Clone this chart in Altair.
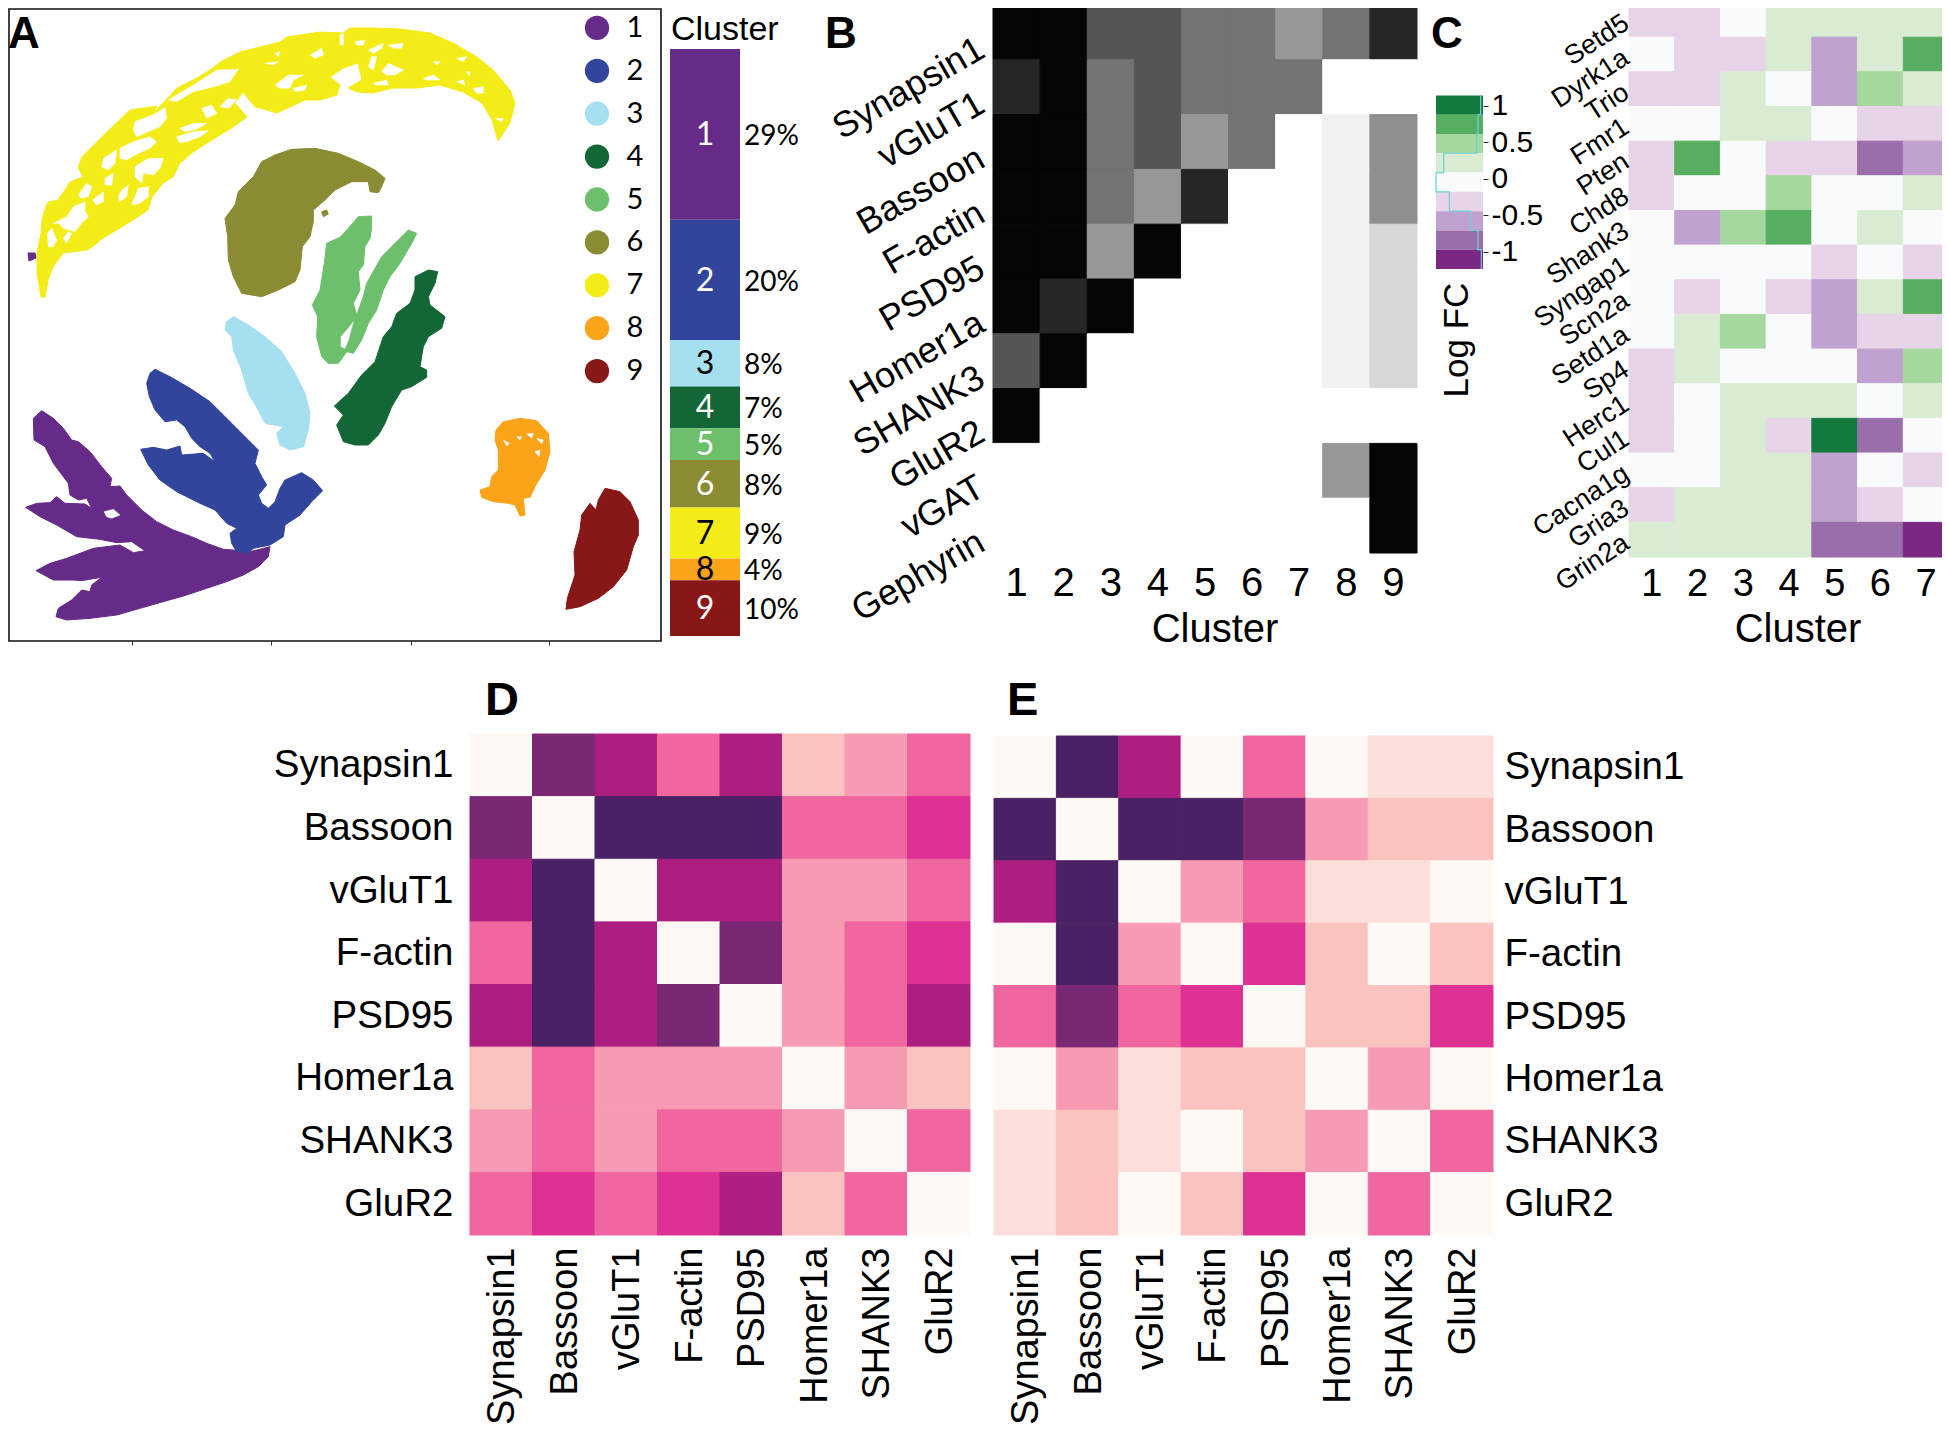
import altair as alt
import pandas as pd

W, H = 1934, 1417
M = 8
SANS = "Liberation Sans"
SOFT = "Lato"

# ---------- panel A: cluster outlines of the embedding ----------
cluster_colors = ["#662b88", "#32459c", "#a6dff0", "#136635", "#6dc06b", "#8a8b33", "#f4ec17", "#fba319", "#881717"]
cluster_names = ["1", "2", "3", "4", "5", "6", "7", "8", "9"]
cluster_share = [29.1, 20.5, 7.9, 7.1, 5.4, 8.1, 8.7, 3.7, 9.5]
cluster_pct = ["29%", "20%", "8%", "7%", "5%", "8%", "9%", "4%", "10%"]
bar_ink = ["white", "white", "black", "white", "white", "white", "black", "black", "white"]

yellow_outline = [(41,297),(37,273),(37,253),(41,233),(42,220),(44,212),(48,202),(58,200),(65,190),(70,182),(83,177),(78,167),(82,157),(92,147),(107,132),(130,110),(157,106),(153,113),(163,103),(177,88),(197,78),(213,68),(220,62),(240,52),(280,42),(287,37),(320,32),(343,33),(350,28),(373,28),(400,29),(430,33),(453,43),(477,57),(493,70),(510,90),(515,103),(510,123),(498,141),(492,120),(482,103),(463,92),(440,85),(417,88),(393,88),(373,93),(357,92),(348,88),(362,80),(358,63),(343,68),(330,77),(340,85),(337,95),(320,100),(305,100),(277,113),(260,108),(255,107),(243,92),(235,103),(247,117),(233,127),(220,135),(207,143),(193,152),(180,163),(173,177),(163,183),(152,197),(148,210),(133,220),(120,228),(103,238),(92,247),(87,250),(63,253),(53,267),(48,280),(45,297)]
holes_left = [
    [(445,240),(520,195),(590,150),(655,148),(630,185),(590,198),(520,215),(470,245)],
    [(345,305),(405,282),(435,262),(440,295),(420,320),(385,335),(350,350),(340,330)],
    [(470,350),(520,335),(565,332),(540,350),(500,365),(478,368)],
    [(480,325),(520,310),(560,310),(530,328),(495,335)],
    [(600,260),(625,235),(650,240),(625,265)],
    [(545,265),(575,255),(590,280),(560,295)],
    [(300,385),(340,365),(390,350),(410,365),(390,385),(345,405),(320,420),(300,415)],
    [(250,415),(290,390),(285,430),(265,450),(245,440)],
    [(345,440),(385,415),(430,415),(420,445),(400,465),(370,460),(365,490),(345,470)],
    [(255,475),(280,460),(275,495),(255,495)],
    [(175,525),(200,490),(215,500),(205,530),(185,535)],
    [(218,540),(250,515),(250,545),(228,555)],
    [(305,510),(325,495),(320,530),(300,545),(295,530)],
    [(335,555),(355,505),(385,500),(385,530),(360,550)],
    [(100,610),(140,590),(160,560),(195,545),(195,575),(205,590),(185,610),(165,635),(130,625),(115,610)],
    [(82,640),(95,625),(110,660),(100,680),(85,680)],
    [(130,655),(145,635),(155,640),(140,670)],
]
holes_right = [
    [(45,195),(85,165),(130,165),(100,180),(90,205),(60,205)],
    [(100,205),(140,195),(135,210),(105,215)],
    [(150,105),(185,85),(190,105),(165,115)],
    [(325,90),(370,70),(365,85),(340,100)],
    [(385,75),(430,70),(425,85),(400,85)],
    [(365,155),(385,130),(430,150),(405,165),(380,165)],
    [(285,65),(315,60),(310,75),(290,75)],
    [(590,115),(620,110),(610,125)],
    [(640,205),(670,200),(670,220),(650,220)],
    [(340,190),(380,180),(385,195),(345,195)],
    [(490,175),(520,165),(540,180),(500,180)],
    [(590,185),(610,180),(615,195)],
    [(705,295),(730,295),(725,305)],
    [(45,100),(60,95),(55,110)],
    [(520,125),(540,125),(530,135)],
    [(240,45),(250,40),(250,75),(240,75)],
    [(15,130),(55,125),(40,135)],
    [(325,140),(335,110),(350,110),(340,150)],
    [(620,155),(630,155),(628,168)],
]
stray_point = [(28,253),(35,253),(36,258),(29,261)]

# outlines below: 3x enlargement units, lower-left crop
outline_1 = [(95,152),(130,175),(160,205),(185,240),(205,245),(240,275),(275,320),(305,355),(300,380),(330,378),(350,405),(395,450),(440,485),(490,510),(545,530),(590,550),(640,568),(670,570),(720,575),(780,560),(775,590),(745,620),(700,645),(650,665),(590,685),(530,705),(460,725),(390,745),(320,765),(240,775),(170,780),(138,770),(145,745),(185,720),(215,690),(240,695),(245,675),(275,652),(215,662),(190,660),(130,660),(78,632),(120,610),(170,595),(250,565),(330,555),(370,578),(405,572),(365,545),(320,548),(270,538),(200,530),(140,495),(90,470),(47,442),(80,430),(120,428),(140,410),(165,430),(225,432),(245,445),(230,415),(205,420),(180,405),(175,370),(130,310),(105,260),(72,240),(70,175)]
hole_1 = [(282,455),(310,448),(330,465),(305,475),(290,470)]
outline_2 = [(435,28),(480,50),(540,85),(600,125),(650,175),(700,225),(745,270),(735,310),(755,350),(770,375),(745,405),(755,430),(775,445),(795,425),(810,385),(825,360),(875,338),(910,360),(938,392),(905,425),(870,465),(825,495),(820,530),(780,555),(730,565),(715,580),(680,575),(665,550),(660,520),(680,505),(650,490),(615,450),(570,430),(500,395),(450,360),(415,315),(392,268),(430,262),(470,270),(510,258),(515,285),(580,280),(615,305),(600,280),(570,260),(545,235),(525,200),(500,180),(465,185),(435,150),(418,110),(410,70),(420,40)]
# middle crop
outline_3 = [(55,530),(100,555),(150,590),(200,635),(240,700),(270,760),(285,820),(280,870),(265,920),(225,930),(195,915),(185,880),(205,860),(150,850),(130,810),(100,760),(80,690),(55,630),(50,590),(30,570),(35,545)]
outline_6 = [(230,28),(300,25),(370,40),(430,65),(480,90),(510,115),(500,140),(490,158),(465,155),(460,125),(410,125),(360,150),(330,180),(295,210),(295,245),(285,290),(262,320),(255,390),(240,425),(190,450),(140,470),(80,460),(55,410),(40,360),(38,290),(30,235),(60,195),(70,155),(115,110),(140,65),(180,45)]
stray_6 = [(320,215),(335,210),(340,222),(325,230)]
outline_5 = [(430,230),(470,228),(470,265),(465,295),(450,320),(445,375),(430,395),(435,450),(415,490),(425,525),(445,470),(455,430),(500,350),(540,310),(580,270),(605,280),(590,310),(555,370),(525,410),(505,450),(485,510),(460,550),(440,600),(415,640),(395,635),(385,650),(370,670),(340,670),(320,650),(305,590),(308,530),(292,495),(315,450),(328,370),(335,310),(375,292),(400,265)]
hole_5 = [(378,590),(400,565),(415,545),(400,600),(390,625),(378,620)]
outline_4 = [(600,410),(640,390),(668,395),(660,430),(640,470),(645,495),(690,530),(680,565),(640,590),(625,620),(615,680),(635,690),(635,712),(590,740),(560,750),(530,800),(510,850),(490,885),(460,915),(420,915),(385,905),(365,855),(385,825),(358,798),(400,760),(440,705),(480,665),(505,590),(530,560),(545,520),(585,490),(600,450)]
# lower-right crop
outline_8 = [(100,35),(150,25),(200,32),(235,70),(240,125),(225,180),(195,230),(180,262),(160,265),(165,315),(150,318),(135,285),(115,280),(70,275),(35,262),(30,240),(60,230),(65,200),(85,180),(85,120),(75,90),(78,60)]
holes_8 = [[(100,90),(118,100),(110,108)], [(200,85),(220,90),(215,102)], [(195,125),(210,120),(208,140)], [(140,80),(155,80),(150,90)], [(170,72),(190,70),(185,85)]]
outline_9 = [(405,235),(450,245),(480,275),(505,330),(505,375),(490,410),(470,480),(430,530),(385,565),(330,590),(288,598),(292,565),(315,495),(312,425),(330,360),(335,315),(360,280),(378,300),(385,270)]

# ---------- panel B ----------
b_rows = ["Synapsin1", "vGluT1", "Bassoon", "F-actin", "PSD95", "Homer1a", "SHANK3", "GluR2", "vGAT", "Gephyrin"]
b_levels = [0, 1, 2, 3, 4, 5, 6, 7, 8]
b_colors = ["#ffffff", "#f2f2f2", "#d8d8d8", "#979796", "#8f8f8e", "#727372", "#545554", "#262626", "#030506"]
b_matrix = [
    [8, 8, 6, 6, 5, 5, 3, 5, 7],
    [7, 8, 5, 6, 5, 5, 5, 0, 0],
    [8, 8, 5, 6, 3, 5, 0, 1, 4],
    [8, 8, 5, 3, 7, 0, 0, 1, 4],
    [8, 8, 3, 8, 0, 0, 0, 1, 2],
    [8, 7, 8, 0, 0, 0, 0, 1, 2],
    [6, 8, 0, 0, 0, 0, 0, 1, 2],
    [8, 0, 0, 0, 0, 0, 0, 0, 0],
    [0, 0, 0, 0, 0, 0, 0, 3, 8],
    [0, 0, 0, 0, 0, 0, 0, 0, 8],
]

# ---------- panel C ----------
c_rows = ["Setd5", "Dyrk1a", "Trio", "Fmr1", "Pten", "Chd8", "Shank3", "Syngap1", "Scn2a", "Setd1a", "Sp4", "Herc1", "Cul1", "Cacna1g", "Gria3", "Grin2a"]
c_cols = ["1", "2", "3", "4", "5", "6", "7"]
c_levels = [1.0, 0.75, 0.5, 0.25, 0.0, -0.25, -0.5, -0.75, -1.0]
c_colors = ["#137a3e", "#58ae60", "#a6d79e", "#d9ebd3", "#f9fafc", "#e8d4e8", "#bfa2cf", "#9a6dab", "#7a2882"]
c_hist = [7, 15, 19, 117, 140, 100, 37, 15, 5]
c_matrix = [
    [-.25, -.25, 0, .25, .25, .25, .25],
    [0, -.25, -.25, .25, -.5, .25, .75],
    [-.25, -.25, .25, 0, -.5, .5, .25],
    [0, 0, .25, .25, 0, -.25, -.25],
    [-.25, .75, 0, -.25, -.25, -.75, -.5],
    [-.25, 0, 0, .5, 0, 0, .25],
    [0, -.5, .5, .75, 0, .25, 0],
    [0, 0, 0, 0, -.25, 0, -.25],
    [0, -.25, 0, -.25, -.5, .25, .75],
    [0, .25, .5, 0, -.5, -.25, -.25],
    [-.25, .25, 0, 0, 0, -.5, .5],
    [-.25, 0, .25, .25, .25, 0, .25],
    [-.25, 0, .25, -.25, 1, -.75, 0],
    [0, 0, .25, .25, -.5, 0, -.25],
    [-.25, .25, .25, .25, -.5, -.25, 0],
    [.25, .25, .25, .25, -.75, -.75, -1],
]

# ---------- panels D, E ----------
markers = ["Synapsin1", "Bassoon", "vGluT1", "F-actin", "PSD95", "Homer1a", "SHANK3", "GluR2"]
rdpu_levels = [0, 1, 2, 3, 4, 5, 6, 7, 8]
rdpu_colors = ["#fff9f5", "#fcdedb", "#fac3bf", "#f79bb4", "#f067a0", "#dd3194", "#ac1f80", "#7a2874", "#4b2165"]
d_matrix = [
    [0, 7, 6, 4, 6, 2, 3, 4],
    [7, 0, 8, 8, 8, 4, 4, 5],
    [6, 8, 0, 6, 6, 3, 3, 4],
    [4, 8, 6, 0, 7, 3, 4, 5],
    [6, 8, 6, 7, 0, 3, 4, 6],
    [2, 4, 3, 3, 3, 0, 3, 2],
    [3, 4, 3, 4, 4, 3, 0, 4],
    [4, 5, 4, 5, 6, 2, 4, 0],
]
e_matrix = [
    [0, 8, 6, 0, 4, 0, 1, 1],
    [8, 0, 8, 8, 7, 3, 2, 2],
    [6, 8, 0, 3, 4, 1, 1, 0],
    [0, 8, 3, 0, 5, 2, 0, 2],
    [4, 7, 4, 5, 0, 2, 2, 5],
    [0, 3, 1, 2, 2, 0, 3, 0],
    [1, 2, 1, 0, 2, 3, 0, 4],
    [1, 2, 0, 2, 5, 0, 4, 0],
]


def band(domain, a, b):
    return alt.Scale(type="band", domain=list(domain), range=[a - M, b - M], paddingInner=0, paddingOuter=0)


def embed_x():
    return alt.Scale(domain=[0, 1950], range=[-M, 1950 - M], nice=False, zero=False)


def embed_y():
    return alt.Scale(domain=[0, 1433], range=[-M, 1433 - M], nice=False, zero=False)


def note(text, x, y, size, font=SANS, weight="normal", align="left", baseline="alphabetic", angle=0, color="black"):
    mark = alt.Chart(pd.DataFrame({"t": [text]})).mark_text(
        font=font, fontSize=size, fontWeight=weight, align=align, baseline=baseline, angle=angle, color=color
    )
    return mark.encode(x=alt.value(x - M), y=alt.value(y - M), text="t:N")


def polygon(points, color, sx=1.0, sy=1.0, ox=0.0, oy=0.0, width=1.0):
    df = pd.DataFrame({
        "x": [ox + p[0] / sx for p in points],
        "y": [oy + p[1] / sy for p in points],
        "i": list(range(len(points))),
    })
    return alt.Chart(df).mark_line(fill=color, stroke=color, strokeWidth=width, interpolate="linear-closed").encode(
        x=alt.X("x:Q", scale=embed_x(), axis=None),
        y=alt.Y("y:Q", scale=embed_y(), axis=None),
        order="i:Q",
    )


def heatmap(matrix, rows, cols, levels, colors, box, xaxis, yaxis):
    x0, x1, y0, y1 = box
    df = pd.DataFrame([
        {"row": r, "col": c, "v": matrix[i][j]}
        for i, r in enumerate(rows) for j, c in enumerate(cols)
    ])
    cscale = alt.Scale(domain=levels, range=colors)
    return alt.Chart(df).mark_rect(strokeWidth=1).encode(
        x=alt.X("col:N", scale=band(cols, x0, x1), axis=xaxis, sort=None),
        y=alt.Y("row:N", scale=band(rows, y0, y1), axis=yaxis, sort=None),
        fill=alt.Fill("v:O", scale=cscale, legend=None),
        stroke=alt.Stroke("v:O", scale=cscale, legend=None),
    )


def bottom_axis(y, **kw):
    base = dict(orient="bottom", offset=y - M - H, domain=False, ticks=False, tickSize=0, grid=False,
                labelFont=SANS, labelColor="black", labelOverlap=False, labelLimit=500, labelAngle=0, title=None)
    base.update(kw)
    return alt.Axis(**base)


def left_axis(x, **kw):
    base = dict(orient="left", offset=M - x, domain=False, ticks=False, tickSize=0, grid=False,
                labelFont=SANS, labelColor="black", labelOverlap=False, labelLimit=500, title=None)
    base.update(kw)
    return alt.Axis(**base)


def right_axis(x, **kw):
    base = dict(orient="right", offset=x - M - W, domain=False, ticks=False, tickSize=0, grid=False,
                labelFont=SANS, labelColor="black", labelOverlap=False, labelLimit=500, title=None)
    base.update(kw)
    return alt.Axis(**base)


layers = []

# ---- A: frame
frame = pd.DataFrame({"x0": [9], "x1": [661], "y0": [9], "y1": [641]})
layers.append(alt.Chart(frame).mark_rect(filled=False, stroke="#111111", strokeWidth=1.6).encode(
    x=alt.X("x0:Q", scale=embed_x(), axis=bottom_axis(641, labels=False, ticks=True, tickSize=4, tickColor="#333333",
                                                       values=[132, 271, 411, 549])),
    x2="x1:Q",
    y=alt.Y("y0:Q", scale=embed_y(), axis=None),
    y2="y1:Q",
))

# ---- A: clusters
layers.append(polygon(yellow_outline, cluster_colors[6]))
for h in holes_left:
    layers.append(polygon(h, "#ffffff", 3, 3, 20, 20, 0.5))
for h in holes_right:
    layers.append(polygon(h, "#ffffff", 3, 3, 260, 20, 0.5))
layers.append(polygon(stray_point, cluster_colors[0]))
for pts, idx in [(outline_6, 5), (stray_6, 5), (outline_5, 4), (outline_4, 3), (outline_3, 2)]:
    layers.append(polygon(pts, cluster_colors[idx], 3, 3, 215, 140))
layers.append(polygon(hole_5, "#ffffff", 3, 3, 215, 140, 0.5))
for pts, idx in [(outline_1, 0), (outline_2, 1)]:
    layers.append(polygon(pts, cluster_colors[idx], 3, 3, 10, 360))
layers.append(polygon(hole_1, "#ffffff", 3, 3, 10, 360, 0.5))
for pts, idx in [(outline_8, 7), (outline_9, 8)]:
    layers.append(polygon(pts, cluster_colors[idx], 3, 3, 470, 410))
for h in holes_8:
    layers.append(polygon(h, "#ffffff", 3, 3, 470, 410, 0.5))

# ---- A: legend
cluster_scale = alt.Scale(domain=cluster_names, range=cluster_colors)
legend_df = pd.DataFrame({"c": cluster_names})
layers.append(alt.Chart(legend_df).mark_point(filled=True, opacity=1, shape="circle", size=590).encode(
    x=alt.value(597 - M),
    y=alt.Y("c:N", scale=band(cluster_names, 6.5, 392.5), axis=None, sort=None),
    color=alt.Color("c:N", scale=cluster_scale, legend=None),
))
layers.append(alt.Chart(legend_df).mark_text(font=SOFT, fontSize=29, align="center", color="black").encode(
    x=alt.value(635 - M),
    y=alt.Y("c:N", scale=band(cluster_names, 6.5, 392.5), axis=None, sort=None),
    text="c:N",
))

# ---- A: composition bar
ends = []
run = 0.0
for s in cluster_share:
    ends.append(run + s)
    run += s
bar_df = pd.DataFrame({
    "c": cluster_names,
    "start": [e - s for e, s in zip(ends, cluster_share)],
    "end": ends,
    "mid": [e - s / 2 for e, s in zip(ends, cluster_share)],
    "pct": cluster_pct,
    "ink": bar_ink,
    "k": ["Cluster"] * 9,
})
bar_y = alt.Scale(domain=[0, 100], range=[49 - M, 636 - M], nice=False, zero=False)
layers.append(alt.Chart(bar_df).mark_rect().encode(
    x=alt.X("k:N", scale=band(["Cluster"], 670, 740), axis=None),
    y=alt.Y("start:Q", scale=bar_y, axis=None),
    y2="end:Q",
    fill=alt.Fill("c:N", scale=cluster_scale, legend=None),
))
layers.append(alt.Chart(bar_df).mark_text(font=SOFT, fontSize=32, align="center", dy=1).encode(
    x=alt.X("k:N", scale=band(["Cluster"], 670, 740), axis=None),
    y=alt.Y("mid:Q", scale=bar_y, axis=None),
    text="c:N",
    color=alt.Color("ink:N", scale=None),
))
layers.append(alt.Chart(bar_df).mark_text(font=SOFT, fontSize=28, align="left", color="black", dy=3).encode(
    x=alt.value(744 - M),
    y=alt.Y("mid:Q", scale=bar_y, axis=None),
    text="pct:N",
))
layers.append(note("Cluster", 671, 40, 34))

# ---- B
layers.append(heatmap(
    b_matrix, b_rows, cluster_names, b_levels, b_colors, (993, 1417, 5, 553),
    bottom_axis(553, labelFontSize=40, labelPadding=10),
    left_axis(993, labelFontSize=36, labelPadding=12, labelAngle=330, labelAlign="right", labelBaseline="middle",
              labelOffset=14),
))
layers.append(note("Cluster", 1215, 642, 40, align="center"))

# ---- C colour bar
bar_top, bar_bottom = 1.145, -1.233
step = (bar_top - bar_bottom) / len(c_levels)
cb_df = pd.DataFrame({
    "lv": c_levels,
    "top": [bar_top - i * step for i in range(len(c_levels))],
    "bot": [bar_top - (i + 1) * step for i in range(len(c_levels))],
    "k": ["FC"] * len(c_levels),
})
cb_y = alt.Scale(domain=[bar_bottom, bar_top], range=[269 - M, 95.4 - M], nice=False, zero=False)
cscale = alt.Scale(domain=c_levels, range=c_colors)
layers.append(alt.Chart(cb_df).mark_rect().encode(
    x=alt.X("k:N", scale=band(["FC"], 1436, 1483), axis=None),
    y=alt.Y("top:Q", scale=cb_y, axis=right_axis(
        1483, ticks=True, tickSize=5, tickColor="#222222", labelFontSize=30, labelPadding=3,
        values=[1, 0.5, 0, -0.5, -1], labelExpr="'' + datum.value")),
    y2="bot:Q",
    fill=alt.Fill("lv:O", scale=cscale, legend=None),
))
hist_points = []
for i, c in enumerate(c_hist):
    hist_points.append({"n": c, "e": bar_top - i * step, "i": 2 * i})
    hist_points.append({"n": c, "e": bar_top - (i + 1) * step, "i": 2 * i + 1})
layers.append(alt.Chart(pd.DataFrame(hist_points)).mark_line(color="#66d2dc", strokeWidth=1.2).encode(
    x=alt.X("n:Q", scale=alt.Scale(domain=[0, 140], range=[1483 - M, 1436 - M], nice=False, zero=False), axis=None),
    y=alt.Y("e:Q", scale=cb_y, axis=None),
    order="i:Q",
))
layers.append(note("Log FC", 1468, 340, 35, align="center", angle=270))

# ---- C
layers.append(heatmap(
    c_matrix, c_rows, c_cols, c_levels, c_colors, (1629, 1949, 2.5, 557),
    bottom_axis(557, labelFontSize=38, labelPadding=8),
    left_axis(1629, labelFontSize=27, labelPadding=3, labelAngle=327, labelAlign="right", labelBaseline="middle",
              labelOffset=1),
))
layers.append(note("Cluster", 1798, 642, 40, align="center"))

# ---- D, E
layers.append(heatmap(
    d_matrix, markers, markers, rdpu_levels, rdpu_colors, (470, 970, 734, 1235),
    bottom_axis(1235, labelFontSize=38, labelPadding=12, labelAngle=270, labelAlign="right", labelBaseline="middle",
                labelOffset=2),
    left_axis(470, labelFontSize=38.5, labelPadding=17),
))
layers.append(heatmap(
    e_matrix, markers, markers, rdpu_levels, rdpu_colors, (994, 1493, 736, 1235),
    bottom_axis(1235, labelFontSize=38, labelPadding=12, labelAngle=270, labelAlign="right", labelBaseline="middle",
                labelOffset=2),
    right_axis(1493, labelFontSize=38.5, labelPadding=11),
))

# ---- panel letters
for letter, x, y in [("A", 8, 48), ("B", 825, 48), ("C", 1431, 48), ("D", 485, 715), ("E", 1007, 715)]:
    layers.append(note(letter, x, y, 44 if y < 100 else 47, weight="bold"))

chart = alt.layer(*layers).resolve_scale(
    x="independent", y="independent", color="independent", fill="independent", stroke="independent"
).properties(
    width=W, height=H, padding=0, autosize=alt.AutoSizeParams(type="none"), background="white"
).configure_view(strokeWidth=0)

chart.save("out.html", embed_options={"renderer": "svg", "actions": False})
